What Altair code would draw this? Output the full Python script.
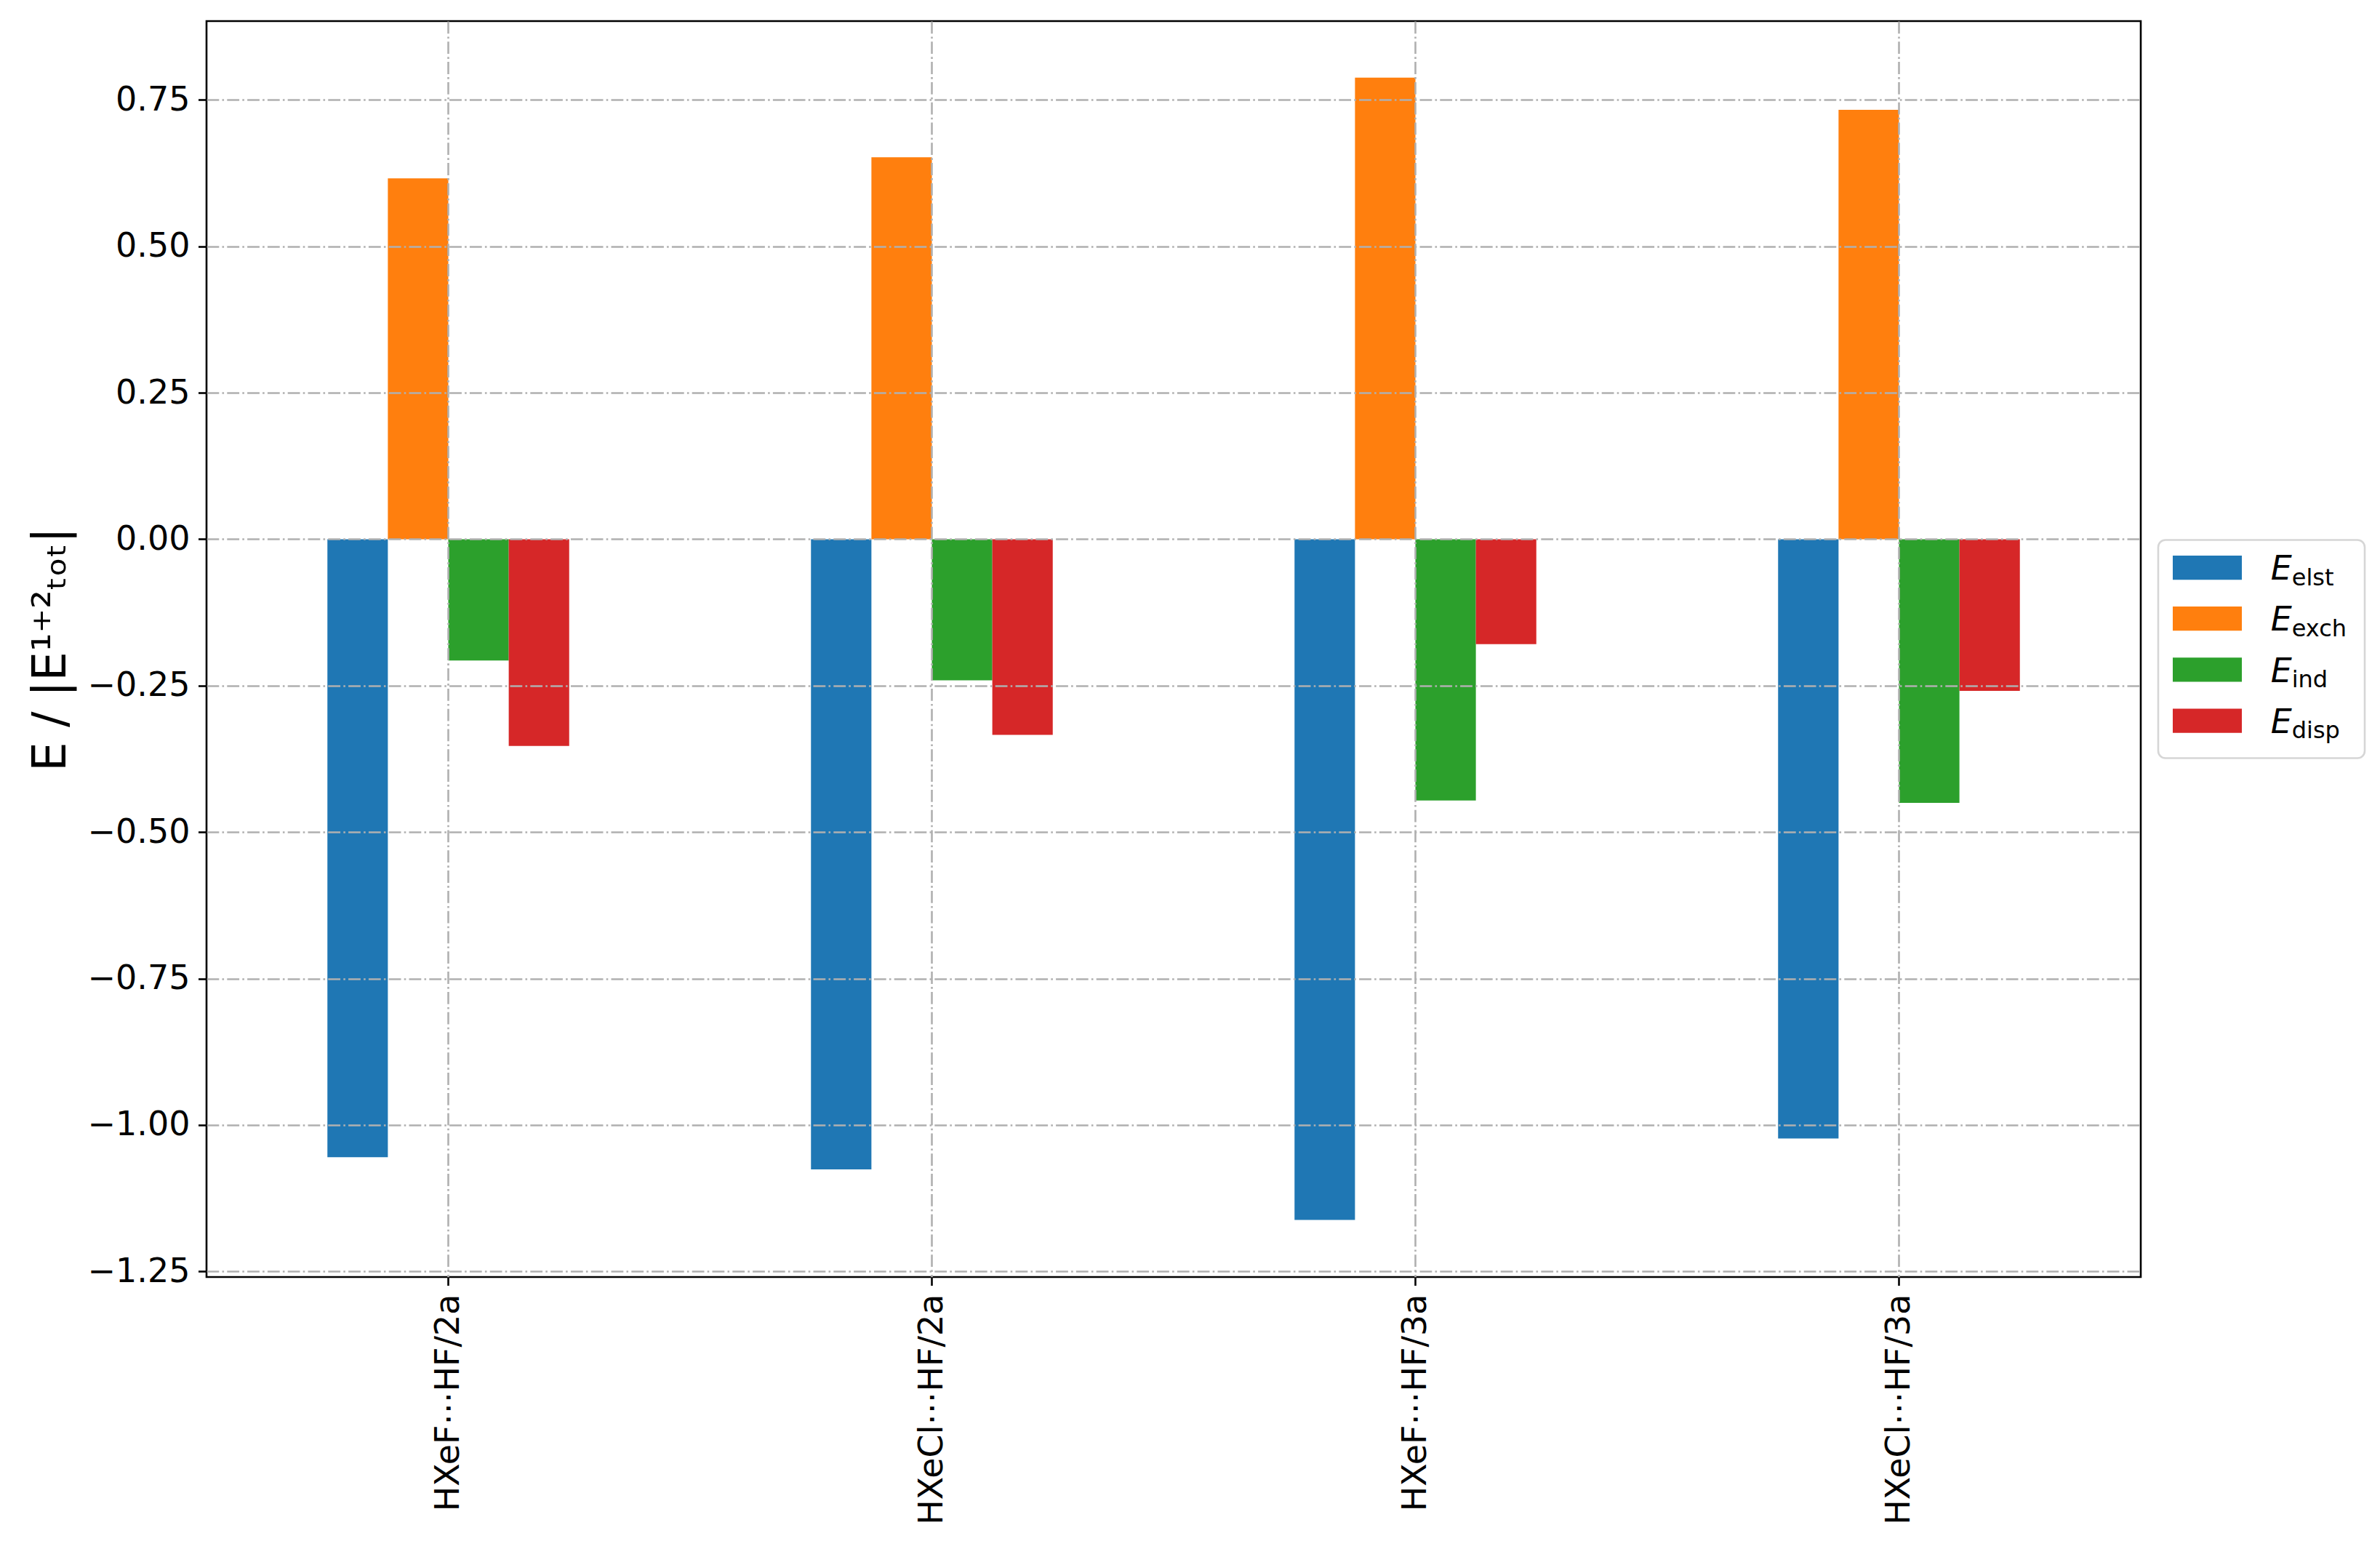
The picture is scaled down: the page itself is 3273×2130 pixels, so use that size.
import altair as alt
import pandas as pd

systems = ["HXeF⋯HF/2a", "HXeCl⋯HF/2a", "HXeF⋯HF/3a", "HXeCl⋯HF/3a"]
components = ["elst", "exch", "ind", "disp"]
e_elst = [-1.055, -1.076, -1.162, -1.023]
e_exch = [0.616, 0.652, 0.788, 0.733]
e_ind = [-0.207, -0.241, -0.446, -0.450]
e_disp = [-0.353, -0.334, -0.179, -0.259]
colors = ["#1f77b4", "#ff7f0e", "#2ca02c", "#d62728"]
y_ticks = [-1.25, -1.0, -0.75, -0.5, -0.25, 0.0, 0.25, 0.5, 0.75]

series = {"elst": e_elst, "exch": e_exch, "ind": e_ind, "disp": e_disp}
rows = []
for comp in components:
    for sys_name, v in zip(systems, series[comp]):
        rows.append({"system": sys_name, "component": comp, "value": v})
df = pd.DataFrame(rows)

FONT = "DejaVu Sans"
color_scale = alt.Scale(domain=components, range=colors)

main = alt.Chart(df).mark_bar().encode(
    x=alt.X(
        "system:N",
        sort=systems,
        scale=alt.Scale(paddingInner=0.5, paddingOuter=0.25),
        axis=alt.Axis(
            title=None, labelAngle=-90, labelAlign="right", labelBaseline="middle",
            labelFontSize=46, labelFont=FONT, labelColor="black", labelPadding=11.5,
            labelLimit=0,
            tickSize=11.5, tickWidth=2.6, tickColor="black", domain=False,
            grid=True, gridColor="#b0b0b0", gridWidth=2.6, gridDash=[16.8, 4.2, 2.6, 4.2],
            zindex=1,
        ),
    ),
    xOffset=alt.XOffset("component:N", sort=components,
                        scale=alt.Scale(paddingInner=0, paddingOuter=0)),
    y=alt.Y(
        "value:Q",
        scale=alt.Scale(domain=[-1.2596, 0.8846], nice=False, zero=False),
        axis=alt.Axis(
            title="E / |E¹⁺²ₜₒₜ|", titleFontSize=64, titleFont=FONT, titleFontWeight="normal",
            titleColor="black", titlePadding=18,
            values=y_ticks,
            labelExpr="replace(format(datum.value, '.2f'), '-', '\u2212')",
            labelFontSize=46, labelFont=FONT, labelColor="black", labelPadding=11.5,
            tickSize=11.5, tickWidth=2.6, tickColor="black", domain=False,
            grid=True, gridColor="#b0b0b0", gridWidth=2.6, gridDash=[16.8, 4.2, 2.6, 4.2],
            zindex=1,
        ),
    ),
    color=alt.Color("component:N", scale=color_scale, legend=None),
).properties(
    width=2660, height=1727,
    view=alt.ViewBackground(stroke="black", strokeWidth=2.6, fill="white"),
)

leg_df = pd.DataFrame({"component": components, "sub": components})
base = alt.Chart(leg_df).encode(
    y=alt.Y("component:N", sort=components,
            scale=alt.Scale(type="point", range=[38, 248.5], padding=0), axis=None)
)
swatch = base.mark_point(
    shape="M-1,-0.35H1V0.35H-1Z", filled=True, size=9025, opacity=1, strokeWidth=0
).encode(x=alt.value(67.5), color=alt.Color("component:N", scale=color_scale, legend=None))
etext = base.mark_text(
    text="E", font=FONT, fontStyle="italic", fontSize=46, align="left",
    baseline="alphabetic", dy=16.7, color="black"
).encode(x=alt.value(154.7))
subtext = base.mark_text(
    font=FONT, fontSize=32, align="left", baseline="alphabetic", dy=24.3, color="black"
).encode(x=alt.value(183.7), text="sub:N")

legend = alt.layer(swatch, etext, subtext).properties(
    width=284, height=300,
    view=alt.ViewBackground(stroke="#d6d6d6", strokeWidth=2.6, cornerRadius=10, fill="white"),
)

chart = alt.hconcat(main, legend, spacing=24, bounds="flush", center=True).resolve_scale(
    y="independent"
).properties(
    padding={"left": 28, "top": 19, "right": 0, "bottom": 0},
    background="white",
).configure(font=FONT)

chart.save("out.html", embed_options={"renderer": "svg", "actions": False})
